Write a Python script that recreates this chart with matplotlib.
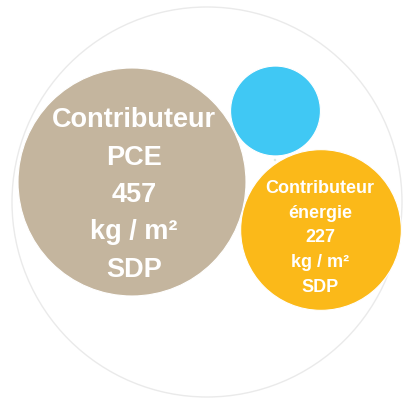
import matplotlib

matplotlib.use("Agg")
import matplotlib.pyplot as plt
from matplotlib.patches import Circle
import numpy as np

# bubble data (kg / m² SDP)
labels = ["Contributeur\nPCE\n457\nkg / m²\nSDP", "", "Contributeur\nénergie\n227\nkg / m²\nSDP", ""]
values = [457, 71, 227, 0.05]
colors = ["#C4B59E", "#40C8F4", "#FBB919", "#8FBF8F"]
font_sizes = [19.5, 0, 13, 0]

# packed layout (pixel centres) and size scale
centres = [(132, 183), (275.5, 112), (321, 231), (275, 161)]
text_offsets = [(2, 12), (0, 0), (-1, 7), (0, 0)]
scale = 114 / np.sqrt(457)
line_spacing = [1.57, 1.0, 1.6, 1.0]

fig = plt.figure(figsize=(4.09, 4.02), dpi=100)
ax = fig.add_axes([0, 0, 1, 1])
ax.set_xlim(0, 409)
ax.set_ylim(402, 0)
ax.set_aspect("equal")
ax.axis("off")

# parent circle
ax.add_patch(Circle((207, 203), 195, facecolor="white", edgecolor="#EAEAEA", lw=1.0))

for (cx, cy), (dx, dy), v, c, lab, fs, ls in zip(centres, text_offsets, values, colors,
                                                labels, font_sizes, line_spacing):
    r = scale * np.sqrt(v)
    ax.add_patch(Circle((cx, cy), r, facecolor=c, edgecolor="white", lw=0.8))
    if lab:
        ax.text(cx + dx, cy + dy, lab, ha="center", va="center", color="white",
                fontsize=fs, fontweight="bold", linespacing=ls,
                family=["Liberation Sans Narrow", "Liberation Sans", "DejaVu Sans"])

fig.savefig("out.png", dpi=100)
